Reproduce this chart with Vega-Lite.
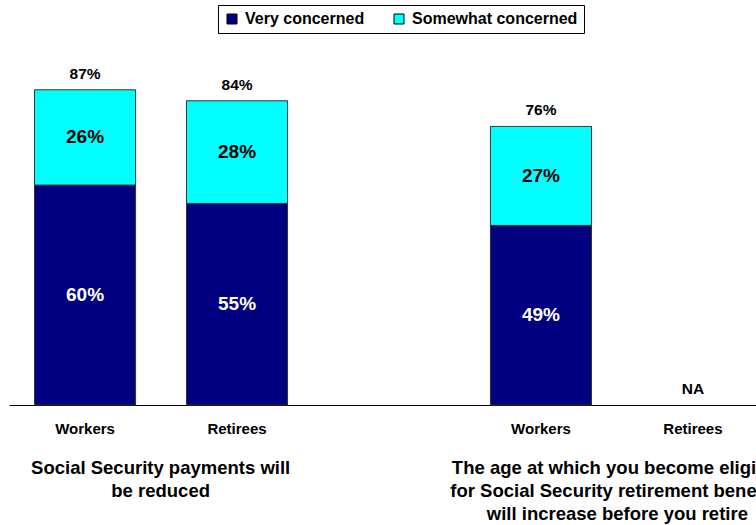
{
  "$schema": "https://vega.github.io/schema/vega-lite/v6.json",
  "autosize": "none",
  "width": 760,
  "height": 405,
  "padding": {"left": 9, "top": 0, "right": 0, "bottom": 120},
  "background": "white",
  "config": {"view": {"stroke": null}, "font": "Liberation Sans"},
  "datasets": {
    "bars": [
      {"slot": "W1", "series": "Very concerned", "value": 60, "label": "60%", "totalLabel": "87%"},
      {"slot": "W1", "series": "Somewhat concerned", "value": 26, "label": "26%", "totalLabel": "87%"},
      {"slot": "R1", "series": "Very concerned", "value": 55, "label": "55%", "totalLabel": "84%"},
      {"slot": "R1", "series": "Somewhat concerned", "value": 28, "label": "28%", "totalLabel": "84%"},
      {"slot": "W2", "series": "Very concerned", "value": 49, "label": "49%", "totalLabel": "76%"},
      {"slot": "W2", "series": "Somewhat concerned", "value": 27, "label": "27%", "totalLabel": "76%"},
      {"slot": "R2", "series": "Very concerned", "value": 0, "label": "", "totalLabel": "NA"}
    ],
    "groups": [
      {"group": "g1", "title": "Social Security payments will\nbe reduced"},
      {"group": "g2", "title": "The age at which you become eligible\nfor Social Security retirement benefits\nwill increase before you retire"}
    ]
  },
  "layer": [
    {
      "data": {"name": "bars"},
      "layer": [
        {
          "transform": [{"filter": "datum.value > 0"}],
          "mark": {"type": "bar", "stroke": "#333333", "strokeWidth": 1},
          "encoding": {
            "x": {
              "field": "slot", "type": "nominal",
              "scale": {"domain": ["W1", "R1", "gap", "W2", "R2"], "paddingInner": 0.335, "paddingOuter": 0.168},
              "axis": {
                "title": null, "labelAngle": 0, "ticks": false, "domainColor": "black", "domainWidth": 1,
                "labelFont": "Liberation Sans", "labelFontWeight": "bold", "labelFontSize": 15, "labelColor": "black",
                "labelPadding": 16,
                "labelExpr": "datum.value == 'W1' || datum.value == 'W2' ? 'Workers' : (datum.value == 'R1' || datum.value == 'R2' ? 'Retirees' : '')"
              }
            },
            "y": {"field": "value", "type": "quantitative", "scale": {"domain": [0, 110.5], "nice": false}, "axis": null},
            "color": {
              "field": "series", "type": "nominal",
              "scale": {"domain": ["Very concerned", "Somewhat concerned"], "range": ["#000080", "#00FFFF"]},
              "legend": {
                "orient": "none", "legendX": 209, "legendY": 5, "direction": "horizontal", "title": null,
                "strokeColor": "black", "fillColor": "white", "padding": 6,
                "labelFont": "Liberation Sans", "labelFontWeight": "bold", "labelFontSize": 16, "labelColor": "black",
                "labelLimit": 400,
                "symbolType": "square", "symbolSize": 100, "symbolStrokeColor": "black", "symbolStrokeWidth": 1,
                "labelOffset": 5, "columnPadding": 26
              }
            },
            "order": {"field": "series", "sort": "descending"}
          }
        },
        {
          "transform": [
            {"filter": "datum.value > 0"},
            {"stack": "value", "groupby": ["slot"], "sort": [{"field": "series", "order": "descending"}], "as": ["v0", "v1"]},
            {"calculate": "(datum.v0 + datum.v1) / 2", "as": "mid"}
          ],
          "mark": {"type": "text", "font": "Liberation Sans", "fontWeight": "bold", "fontSize": 19, "baseline": "middle"},
          "encoding": {
            "x": {"field": "slot", "type": "nominal", "scale": {"domain": ["W1", "R1", "gap", "W2", "R2"], "paddingInner": 0.335, "paddingOuter": 0.168}},
            "y": {"field": "mid", "type": "quantitative", "scale": {"domain": [0, 110.5], "nice": false}},
            "text": {"field": "label"},
            "color": {"condition": {"test": "datum.series == 'Very concerned'", "value": "white"}, "value": "black"}
          }
        },
        {
          "transform": [
            {"aggregate": [{"op": "sum", "field": "value", "as": "top"}], "groupby": ["slot", "totalLabel"]}
          ],
          "mark": {"type": "text", "font": "Liberation Sans", "fontWeight": "bold", "fontSize": 15.5, "baseline": "bottom", "dy": -8, "color": "black"},
          "encoding": {
            "x": {"field": "slot", "type": "nominal", "scale": {"domain": ["W1", "R1", "gap", "W2", "R2"], "paddingInner": 0.335, "paddingOuter": 0.168}},
            "y": {"field": "top", "type": "quantitative", "scale": {"domain": [0, 110.5], "nice": false}},
            "text": {"field": "totalLabel"}
          }
        }
      ]
    },
    {
      "data": {"name": "groups"},
      "mark": {"type": "text", "font": "Liberation Sans", "fontWeight": "bold", "fontSize": 18.5, "baseline": "alphabetic", "lineBreak": "\n", "lineHeight": 23, "color": "black", "align": "center"},
      "encoding": {
        "x": {"field": "group", "type": "nominal", "scale": {"type": "point", "domain": ["g1", "g2"], "padding": 0.332}, "axis": null},
        "y": {"datum": -18.8, "type": "quantitative", "scale": {"domain": [0, 110.5], "nice": false}},
        "text": {"field": "title"}
      }
    }
  ],
  "resolve": {"scale": {"x": "independent"}}
}
